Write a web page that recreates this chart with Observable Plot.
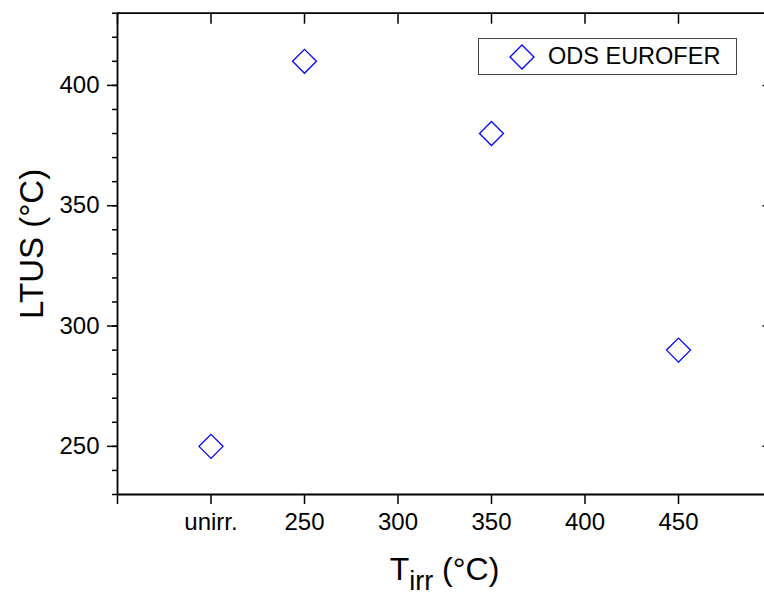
<!DOCTYPE html>
<html>
<head>
<meta charset="utf-8">
<script src="https://cdn.jsdelivr.net/npm/d3@7"></script>
<script src="https://cdn.jsdelivr.net/npm/@observablehq/plot@0.6"></script>
<style>
  html, body { margin: 0; padding: 0; background: white; }
  #wrap { position: relative; width: 764px; height: 596px; overflow: hidden; font-family: "Liberation Sans", Arial, sans-serif; }
  #legendBox { position: absolute; left: 478px; top: 37.5px; width: 259px; height: 37px; border: 1px solid #444; box-sizing: border-box; background: white; }
  #legendSwatch { position: absolute; left: 508px; top: 43px; }
  #legendText { position: absolute; left: 548px; top: 45px; font-size: 23.5px; line-height: 1; color: #000; white-space: pre; }
</style>
</head>
<body>
<div id="wrap"></div>
<script>
// ---- data ----
const categories = ["unirr.", "250", "350", "450"];      // irradiation temperature labels
const tirr = [200, 250, 350, 450];                        // position on the T_irr axis (unirr. sits in the 200 slot)
const ltus = [250, 410, 380, 290];                        // LTUS (°C)
const seriesName = "ODS EUROFER";

const xTicks = [150, 200, 250, 300, 350, 400, 450, 500];
const xTickLabels = ["", "unirr.", "250", "300", "350", "400", "450", ""];
const yTicks = [250, 300, 350, 400];
const yMinorTicks = [230, 240, 250, 260, 270, 280, 290, 300, 310, 320, 330, 340, 350, 360, 370, 380, 390, 400, 410, 420, 430];

const yLabel = "LTUS (°C)";
const xLabelMain = "T";
const xLabelSub = "irr";
const xLabelUnit = " (°C)";

const data = categories.map((c, i) => ({category: c, t: tirr[i], ltus: ltus[i]}));

const blank = () => "";

const chart = Plot.plot({
  width: 764,
  height: 596,
  marginLeft: 117,
  marginRight: 0,
  marginTop: 12.7,
  marginBottom: 102,
  style: {fontFamily: "'Liberation Sans', Arial, sans-serif", color: "#000", background: "white", overflow: "hidden"},
  x: {domain: [150, 500], range: [117, 771.5], label: null},
  y: {domain: [230, 430], label: null},
  marks: [
    // frame lines
    Plot.ruleX([150, 500], {stroke: "#000", strokeWidth: 1.8}),
    Plot.ruleY([230, 430], {stroke: "#000", strokeWidth: 1.8}),
    // bottom axis
    Plot.axisX(xTicks, {anchor: "bottom", label: null, tickSize: 10, tickPadding: 8, strokeWidth: 1.5, fontSize: 24,
      tickFormat: (d) => xTickLabels[xTicks.indexOf(d)]}),
    // top axis (inward ticks)
    Plot.axisX(xTicks, {anchor: "top", label: null, tickSize: -10, strokeWidth: 1.5, tickFormat: blank}),
    // left axis
    Plot.axisY(yTicks, {anchor: "left", label: null, tickSize: 10, tickPadding: 8, strokeWidth: 1.5, fontSize: 24}),
    Plot.axisY(yMinorTicks, {anchor: "left", label: null, tickSize: 5, strokeWidth: 1.5, tickFormat: blank}),
    // right axis (inward ticks)
    Plot.axisY(yTicks, {anchor: "right", label: null, tickSize: -10, dx: 7.5, strokeWidth: 1.5, tickFormat: blank}),
    // data
    Plot.dot(data, {x: "t", y: "ltus", symbol: "diamond2", r: 10.8, stroke: "#0000ff", fill: "none", strokeWidth: 1.3}),
    // axis labels
    Plot.text([yLabel], {frameAnchor: "left", rotate: -90, dx: -75, dy: -10, lineAnchor: "bottom", textAnchor: "middle", fontSize: 33, fill: "#000"}),
    Plot.text([xLabelMain], {frameAnchor: "bottom", dx: 3.5, dy: 85.5, lineAnchor: "bottom", textAnchor: "middle", fontSize: 32, fill: "#000", className: "xlabel"})
  ]
});

document.getElementById("wrap").appendChild(chart);

// rebuild the x-axis label with a subscript
const xt = chart.querySelector(".xlabel text");
if (xt) {
  xt.textContent = "";
  const ns = "http://www.w3.org/2000/svg";
  const t1 = document.createElementNS(ns, "tspan"); t1.textContent = xLabelMain;
  const t2 = document.createElementNS(ns, "tspan"); t2.textContent = xLabelSub;
  t2.setAttribute("font-size", "27"); t2.setAttribute("dy", "10");
  const t3 = document.createElementNS(ns, "tspan"); t3.textContent = xLabelUnit;
  t3.setAttribute("dy", "-10");
  xt.append(t1, t2, t3);
}

// legend
const wrap = document.getElementById("wrap");
const box = document.createElement("div"); box.id = "legendBox"; wrap.appendChild(box);
const sw = d3.create("svg").attr("id", "legendSwatch").attr("width", 28).attr("height", 28);
sw.append("path").attr("transform", "translate(14,14)")
  .attr("d", d3.symbol(d3.symbolDiamond2, Math.PI * 10.8 * 10.8)())
  .attr("fill", "none").attr("stroke", "#0000ff").attr("stroke-width", 1.3);
wrap.appendChild(sw.node());
const lt = document.createElement("div"); lt.id = "legendText"; lt.textContent = seriesName; wrap.appendChild(lt);
</script>
</body>
</html>
